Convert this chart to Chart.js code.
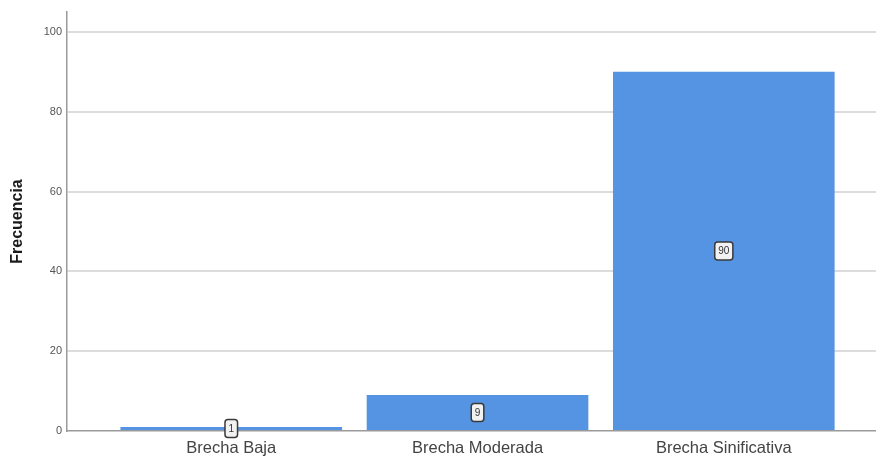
<!DOCTYPE html>
<html>
<head>
<meta charset="utf-8">
<script src="https://cdn.jsdelivr.net/npm/chart.js@4.4.1/dist/chart.umd.min.js"></script>
<style>
  html, body { margin: 0; padding: 0; background: #fff; }
  #wrap { width: 876px; height: 456px; position: relative; }
</style>
</head>
<body>
<div id="wrap"><canvas id="frecuenciaChart"></canvas></div>
<script>
const categories = ['Brecha Baja', 'Brecha Moderada', 'Brecha Sinificativa'];
const frequencies = [1, 9, 90];
const yTicks = [0, 20, 40, 60, 80, 100];
const yTitle = 'Frecuencia';

// small boxed value label in the middle of each bar
const barLabels = {
    id: 'barLabels',
    afterDatasetsDraw(chart) {
        const ctx = chart.ctx;
        const meta = chart.getDatasetMeta(0);
        ctx.save();
        ctx.font = '10px Arial, "Liberation Sans", sans-serif';
        ctx.textAlign = 'center';
        ctx.textBaseline = 'middle';
        meta.data.forEach(function (bar, i) {
            const txt = String(frequencies[i]);
            const cy = (bar.y + bar.base) / 2;
            const w = ctx.measureText(txt).width + 7;
            const h = 18;
            ctx.beginPath();
            ctx.roundRect(bar.x - w / 2, cy - h / 2, w, h, 3);
            ctx.fillStyle = '#f2f2f2';
            ctx.fill();
            ctx.lineWidth = 1.5;
            ctx.strokeStyle = '#3a3a3a';
            ctx.stroke();
            ctx.fillStyle = '#333';
            ctx.fillText(txt, bar.x, cy + 0.5);
        });
        ctx.restore();
    }
};

new Chart(document.getElementById('frecuenciaChart'), {
    type: 'bar',
    data: {
        datasets: [{
            data: frequencies.map(function (v, i) { return { x: i, y: v }; }),
            backgroundColor: '#5594e3',
            borderWidth: 0,
            barPercentage: 0.9,
            categoryPercentage: 1
        }]
    },
    options: {
        responsive: true,
        maintainAspectRatio: false,
        animation: false,
        layout: { padding: { top: 12, right: 0, left: 0, bottom: 0 } },
        plugins: {
            legend: { display: false },
            tooltip: { enabled: false }
        },
        scales: {
            x: {
                type: 'linear',
                offset: false,
                min: -0.667,
                max: 2.618,
                afterBuildTicks: function (scale) {
                    scale.ticks = categories.map(function (c, i) { return { value: i }; });
                },
                afterFit: function (scale) { scale.height = 25; },
                ticks: {
                    autoSkip: false,
                    maxRotation: 0,
                    padding: 0,
                    color: '#444',
                    font: { family: 'Arial, "Liberation Sans", sans-serif', size: 16.5, lineHeight: 1.1 },
                    callback: function (v) { return categories[v]; }
                },
                grid: { display: false, offset: false },
                border: { display: true, color: '#9a9a9a', width: 1.5 }
            },
            y: {
                min: 0,
                max: 105,
                afterBuildTicks: function (scale) {
                    scale.ticks = yTicks.map(function (v) { return { value: v }; });
                },
                afterFit: function (scale) { scale.width = 67; },
                ticks: {
                    padding: 5,
                    color: '#555',
                    font: { family: 'Arial, "Liberation Sans", sans-serif', size: 11 }
                },
                grid: {
                    color: function (c) { return c.tick && c.tick.value === 0 ? 'rgba(0,0,0,0)' : '#dcdcdc'; },
                    lineWidth: 2,
                    drawTicks: false
                },
                border: { display: true, color: '#9a9a9a', width: 1.5 },
                title: {
                    display: true,
                    text: yTitle,
                    color: '#1a1a1a',
                    font: { family: 'Arial, "Liberation Sans", sans-serif', size: 16, weight: 'bold' },
                    padding: { top: 8, bottom: 0 }
                }
            }
        }
    },
    plugins: [barLabels]
});
</script>
</body>
</html>
